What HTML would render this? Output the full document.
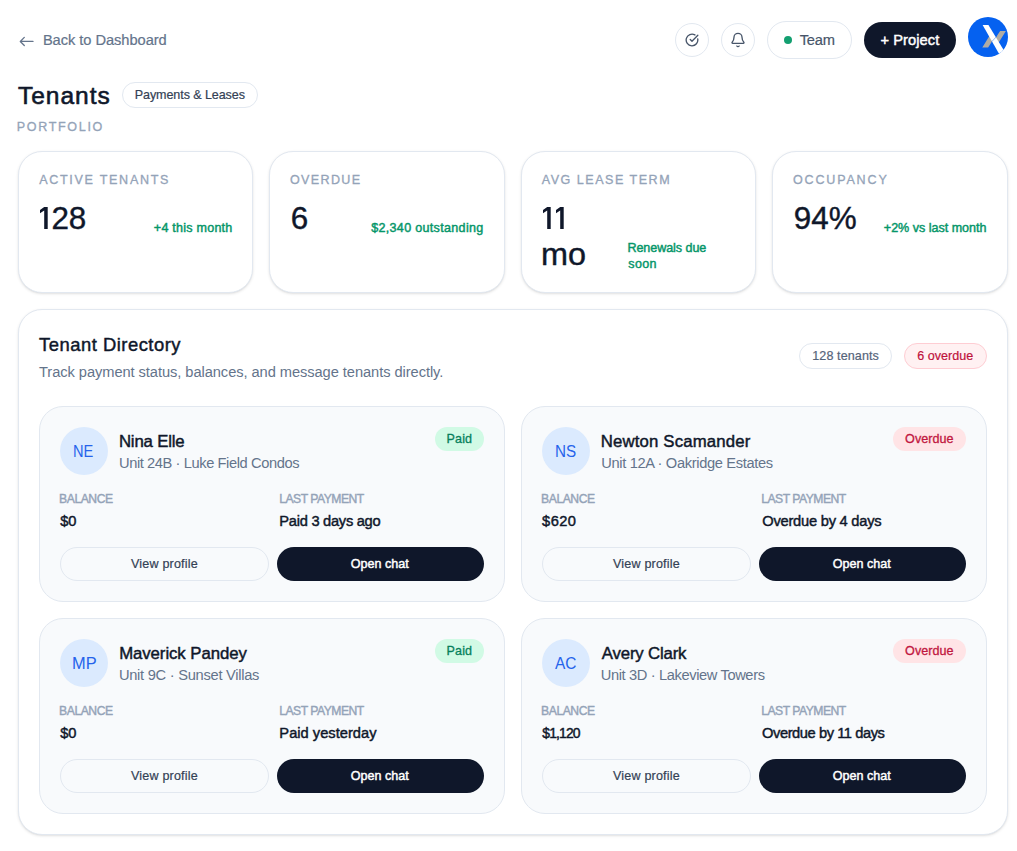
<!DOCTYPE html>
<html lang="en">
<head>
<meta charset="utf-8">
<title>Tenants</title>
<style>
*{box-sizing:border-box;margin:0;padding:0}
html,body{width:1017px;height:851px;overflow:hidden;background:#fff}
body{font-family:"Liberation Sans",sans-serif;color:#0f172a;position:relative}
.a{position:absolute}
.t{position:absolute;white-space:nowrap;line-height:1}
.circ{position:absolute;top:23px;width:34px;height:34px;border-radius:50%;border:1px solid #e2e8f0;background:#fff}
.team{position:absolute;left:767px;top:21px;width:85px;height:38px;border-radius:19px;border:1px solid #e2e8f0;background:#fff}
.dot{position:absolute;left:784px;top:36px;width:8px;height:8px;border-radius:50%;background:#139f70}
.proj{position:absolute;left:864px;top:22px;width:92px;height:36px;border-radius:18px;background:#0f172a}
.pl{position:absolute;left:122px;top:82px;width:136px;height:26px;border-radius:13px;border:1px solid #e2e8f0;background:#fff}
.stat{position:absolute;top:151px;height:142px;border:1px solid #e2e8f0;border-radius:24px;background:#fff;box-shadow:0 1px 3px rgba(0,0,0,.1),0 1px 2px -1px rgba(0,0,0,.1)}
.panel{position:absolute;left:18px;top:309px;width:990px;height:526px;border:1px solid #e2e8f0;border-radius:24px;background:#fff;box-shadow:0 1px 3px rgba(0,0,0,.1),0 1px 2px -1px rgba(0,0,0,.1)}
.pill{position:absolute;top:343px;height:26px;border-radius:13px}
.pill.pa{left:799px;width:93px;border:1px solid #e2e8f0;background:#fff}
.pill.pb{left:904px;width:83px;border:1px solid #fecdd3;background:#fff1f2}
.card{position:absolute;width:466px;height:196px;border:1px solid #e2e8f0;border-radius:24px;background:#f8fafc}
.av{position:absolute;width:48px;height:48px;border-radius:50%;background:#dbeafe;color:#2563eb;font-size:16px;text-align:center;line-height:50px}
.st{position:absolute;height:24px;border-radius:12px}
.st.paid{width:49px;background:#d1fae5}
.st.over{width:73px;background:#ffe4e6}
.b1{position:absolute;width:209px;height:34px;border-radius:17px;border:1px solid #e2e8f0;background:#f8fafc}
.b2{position:absolute;width:207px;height:34px;border-radius:17px;background:#0f172a}
</style>
</head>
<body>
<svg class="a" style="left:18px;top:34px" width="18" height="14" viewBox="18 34 18 14" fill="none" stroke="#64748b" stroke-width="1.3" stroke-linecap="round" stroke-linejoin="round"><path d="M33 41.45H20.4M24.3 37.4L20.3 41.45l4 4"/></svg>
<div class="t" style="left:42.9px;top:33px;font-size:14.66px;color:#64748b;letter-spacing:-0.049px;-webkit-text-stroke:0.2px #64748b;">Back to Dashboard</div>
<div class="circ" style="left:675px"></div>
<svg class="a" style="left:685px;top:33px" width="14" height="14" viewBox="0 0 24 24" fill="none" stroke="#475569" stroke-width="2.3" stroke-linecap="round" stroke-linejoin="round"><path d="M21.801 10A10 10 0 1 1 17 3.335"/><path d="m9 11 3 3L22 4"/></svg>
<div class="circ" style="left:721px"></div>
<svg class="a" style="left:730px;top:32px" width="16" height="16" viewBox="0 0 24 24" fill="none" stroke="#475569" stroke-width="2" stroke-linecap="round" stroke-linejoin="round"><path d="M10.268 21a2 2 0 0 0 3.464 0"/><path d="M3.262 15.326A1 1 0 0 0 4 17h16a1 1 0 0 0 .74-1.673C19.41 13.956 18 12.499 18 8A6 6 0 0 0 6 8c0 4.499-1.411 5.956-2.738 7.326"/></svg>
<div class="team"></div><div class="dot"></div><div class="t" style="left:799.7px;top:33px;font-size:14.66px;color:#475569;letter-spacing:-0.199px;-webkit-text-stroke:0.2px #475569;">Team</div>
<div class="proj"></div><div class="t" style="left:880.45px;top:33px;font-size:14.66px;color:#ffffff;letter-spacing:0.073px;-webkit-text-stroke:0.45px #ffffff;">+ Project</div>
<svg class="a" style="left:968px;top:17px" width="40" height="40" viewBox="0 0 40 40"><defs><clipPath id="cc"><circle cx="20" cy="20" r="20"/></clipPath></defs><g clip-path="url(#cc)"><rect width="40" height="40" fill="#0561f0"/><path d="M32.08 14h5.82L30.4 25.9 27.6 21.1zM14.3 30.5h5.82l4.3-6.8-2.9-4.9z" fill="#b0aca4"/><path d="M14.62 8h5.82L38.7 38h-6.95z" fill="#fff"/><path d="M23.6 24.8L28.9 19.2" stroke="#0561f0" stroke-width=".55" opacity=".8"/></g></svg>
<div class="t" style="left:17.95px;top:84px;font-size:24.5px;color:#0f172a;letter-spacing:1.0px;-webkit-text-stroke:0.6px #0f172a;">Tenants</div>
<div class="pl"></div><div class="t" style="left:134.75px;top:89px;font-size:12.56px;color:#334155;letter-spacing:-0.087px;-webkit-text-stroke:0.2px #334155;">Payments &amp; Leases</div>
<div class="t" style="left:16.85px;top:121px;font-size:12.56px;color:#94a3b8;letter-spacing:1.648px;-webkit-text-stroke:0.3px #94a3b8;">PORTFOLIO</div>
<div class="stat" style="left:18px;width:235px"></div>
<div class="stat" style="left:269px;width:236px"></div>
<div class="stat" style="left:521px;width:235px"></div>
<div class="stat" style="left:772px;width:236px"></div>
<div class="t" style="left:39.15px;top:174px;font-size:12.56px;color:#94a3b8;letter-spacing:1.707px;-webkit-text-stroke:0.3px #94a3b8;">ACTIVE TENANTS</div>
<div class="t" style="left:51.55px;top:203px;font-size:31.41px;color:#0f172a;letter-spacing:-0.2px;-webkit-text-stroke:0.4px #0f172a;">28</div>
<div class="t" style="left:153.85px;top:222px;font-size:12.56px;color:#059669;letter-spacing:0.233px;-webkit-text-stroke:0.45px #059669;">+4 this month</div>
<div class="t" style="left:289.9px;top:174px;font-size:12.56px;color:#94a3b8;letter-spacing:1.367px;-webkit-text-stroke:0.3px #94a3b8;">OVERDUE</div>
<div class="t" style="left:290.85px;top:203px;font-size:31.41px;color:#0f172a;-webkit-text-stroke:0.4px #0f172a;">6</div>
<div class="t" style="left:371.15px;top:222px;font-size:12.56px;color:#059669;letter-spacing:0.318px;-webkit-text-stroke:0.45px #059669;">$2,340 outstanding</div>
<div class="t" style="left:541.7px;top:174px;font-size:12.56px;color:#94a3b8;letter-spacing:1.508px;-webkit-text-stroke:0.3px #94a3b8;">AVG LEASE TERM</div>
<div class="t" style="left:540.94px;top:239px;font-size:31.41px;color:#0f172a;-webkit-text-stroke:0.4px #0f172a;transform:scaleX(1.0317);transform-origin:0 0;">mo</div>
<div class="t" style="left:627.4px;top:242px;font-size:12.56px;color:#059669;letter-spacing:-0.053px;-webkit-text-stroke:0.45px #059669;">Renewals due</div>
<div class="t" style="left:628.35px;top:258px;font-size:12.56px;color:#059669;letter-spacing:0.334px;-webkit-text-stroke:0.45px #059669;">soon</div>
<div class="t" style="left:792.95px;top:174px;font-size:12.56px;color:#94a3b8;letter-spacing:1.823px;-webkit-text-stroke:0.3px #94a3b8;">OCCUPANCY</div>
<div class="t" style="left:793.75px;top:203px;font-size:31.41px;color:#0f172a;-webkit-text-stroke:0.4px #0f172a;">94%</div>
<div class="t" style="left:883.85px;top:222px;font-size:12.56px;color:#059669;letter-spacing:-0.013px;-webkit-text-stroke:0.45px #059669;">+2% vs last month</div>
<svg class="a" style="left:40px;top:207px" width="8" height="22" viewBox="0 0 8 22"><path d="M4.2 0h3.5v22h-3.5V3.6L0 6.3V3z" fill="#0f172a"/></svg><svg class="a" style="left:543px;top:207px" width="8" height="22" viewBox="0 0 8 22"><path d="M4.2 0h3.5v22h-3.5V3.6L0 6.3V3z" fill="#0f172a"/></svg><svg class="a" style="left:555.9px;top:207px" width="8" height="22" viewBox="0 0 8 22"><path d="M4.2 0h3.5v22h-3.5V3.6L0 6.3V3z" fill="#0f172a"/></svg>
<div class="panel"></div>
<div class="t" style="left:39.05px;top:336px;font-size:18.4px;color:#0f172a;letter-spacing:0.506px;-webkit-text-stroke:0.45px #0f172a;">Tenant Directory</div>
<div class="t" style="left:39.0px;top:365px;font-size:14.66px;color:#64748b;letter-spacing:-0.063px;">Track payment status, balances, and message tenants directly.</div>
<div class="pill pa"></div><div class="t" style="left:812.25px;top:350px;font-size:12.56px;color:#55647a;letter-spacing:0.1px;-webkit-text-stroke:0.2px #55647a;">128 tenants</div>
<div class="pill pb"></div><div class="t" style="left:917.3px;top:350px;font-size:12.56px;color:#be123c;letter-spacing:0.025px;-webkit-text-stroke:0.2px #be123c;">6 overdue</div>
<div class="card" style="left:39px;top:406px"></div>
<div class="av" style="left:60px;top:427px"></div><div class="t" style="left:73.33px;top:444px;font-size:16.75px;color:#2563eb;transform:scaleX(0.8727);transform-origin:0 0;">NE</div>
<div class="st paid" style="left:435px;top:427px"></div><div class="b1" style="left:60px;top:547px"></div><div class="b2" style="left:277px;top:547px"></div>
<div class="t" style="left:118.95px;top:434px;font-size:16.75px;color:#0f172a;letter-spacing:-0.173px;-webkit-text-stroke:0.45px #0f172a;">Nina Elle</div>
<div class="t" style="left:119.0px;top:456px;font-size:14.66px;color:#64748b;letter-spacing:-0.407px;">Unit 24B · Luke Field Condos</div>
<div class="t" style="left:446.55px;top:433px;font-size:12.56px;color:#06805b;letter-spacing:0.132px;-webkit-text-stroke:0.3px #06805b;">Paid</div>
<div class="t" style="left:59.05px;top:493px;font-size:12.15px;color:#94a3b8;letter-spacing:-0.432px;-webkit-text-stroke:0.4px #94a3b8;">BALANCE</div>
<div class="t" style="left:279.2px;top:493px;font-size:12.15px;color:#94a3b8;letter-spacing:-0.492px;-webkit-text-stroke:0.4px #94a3b8;">LAST PAYMENT</div>
<div class="t" style="left:60.2px;top:514px;font-size:14.66px;color:#0f172a;-webkit-text-stroke:0.45px #0f172a;">$0</div>
<div class="t" style="left:279.35px;top:514px;font-size:14.66px;color:#0f172a;letter-spacing:-0.272px;-webkit-text-stroke:0.45px #0f172a;">Paid 3 days ago</div>
<div class="t" style="left:130.95px;top:558px;font-size:12.56px;color:#334155;letter-spacing:0.199px;-webkit-text-stroke:0.2px #334155;">View profile</div>
<div class="t" style="left:350.75px;top:558px;font-size:12.56px;color:#ffffff;letter-spacing:-0.001px;-webkit-text-stroke:0.45px #ffffff;">Open chat</div>
<div class="card" style="left:521px;top:406px"></div>
<div class="av" style="left:542px;top:427px"></div><div class="t" style="left:554.89px;top:444px;font-size:16.75px;color:#2563eb;transform:scaleX(0.9091);transform-origin:0 0;">NS</div>
<div class="st over" style="left:893px;top:427px"></div><div class="b1" style="left:542px;top:547px"></div><div class="b2" style="left:759px;top:547px"></div>
<div class="t" style="left:600.7px;top:434px;font-size:16.75px;color:#0f172a;letter-spacing:0.174px;-webkit-text-stroke:0.45px #0f172a;">Newton Scamander</div>
<div class="t" style="left:601.25px;top:456px;font-size:14.66px;color:#64748b;letter-spacing:-0.346px;">Unit 12A · Oakridge Estates</div>
<div class="t" style="left:905.1px;top:433px;font-size:12.56px;color:#c1173f;letter-spacing:0.034px;-webkit-text-stroke:0.3px #c1173f;">Overdue</div>
<div class="t" style="left:541.05px;top:493px;font-size:12.15px;color:#94a3b8;letter-spacing:-0.432px;-webkit-text-stroke:0.4px #94a3b8;">BALANCE</div>
<div class="t" style="left:761.2px;top:493px;font-size:12.15px;color:#94a3b8;letter-spacing:-0.492px;-webkit-text-stroke:0.4px #94a3b8;">LAST PAYMENT</div>
<div class="t" style="left:542.1px;top:514px;font-size:14.66px;color:#0f172a;letter-spacing:0.4px;-webkit-text-stroke:0.45px #0f172a;">$620</div>
<div class="t" style="left:762.25px;top:514px;font-size:14.66px;color:#0f172a;letter-spacing:-0.226px;-webkit-text-stroke:0.45px #0f172a;">Overdue by 4 days</div>
<div class="t" style="left:612.95px;top:558px;font-size:12.56px;color:#334155;letter-spacing:0.199px;-webkit-text-stroke:0.2px #334155;">View profile</div>
<div class="t" style="left:832.75px;top:558px;font-size:12.56px;color:#ffffff;letter-spacing:-0.001px;-webkit-text-stroke:0.45px #ffffff;">Open chat</div>
<div class="card" style="left:39px;top:618px"></div>
<div class="av" style="left:60px;top:639px"></div><div class="t" style="left:71.72px;top:656px;font-size:16.75px;color:#2563eb;transform:scaleX(0.9783);transform-origin:0 0;">MP</div>
<div class="st paid" style="left:435px;top:639px"></div><div class="b1" style="left:60px;top:759px"></div><div class="b2" style="left:277px;top:759px"></div>
<div class="t" style="left:119.15px;top:646px;font-size:16.75px;color:#0f172a;letter-spacing:-0.058px;-webkit-text-stroke:0.45px #0f172a;">Maverick Pandey</div>
<div class="t" style="left:118.9px;top:668px;font-size:14.66px;color:#64748b;letter-spacing:-0.264px;">Unit 9C · Sunset Villas</div>
<div class="t" style="left:446.55px;top:645px;font-size:12.56px;color:#06805b;letter-spacing:0.132px;-webkit-text-stroke:0.3px #06805b;">Paid</div>
<div class="t" style="left:59.05px;top:705px;font-size:12.15px;color:#94a3b8;letter-spacing:-0.432px;-webkit-text-stroke:0.4px #94a3b8;">BALANCE</div>
<div class="t" style="left:279.2px;top:705px;font-size:12.15px;color:#94a3b8;letter-spacing:-0.492px;-webkit-text-stroke:0.4px #94a3b8;">LAST PAYMENT</div>
<div class="t" style="left:60.2px;top:726px;font-size:14.66px;color:#0f172a;-webkit-text-stroke:0.45px #0f172a;">$0</div>
<div class="t" style="left:279.35px;top:726px;font-size:14.66px;color:#0f172a;letter-spacing:0.015px;-webkit-text-stroke:0.45px #0f172a;">Paid yesterday</div>
<div class="t" style="left:130.95px;top:770px;font-size:12.56px;color:#334155;letter-spacing:0.199px;-webkit-text-stroke:0.2px #334155;">View profile</div>
<div class="t" style="left:350.75px;top:770px;font-size:12.56px;color:#ffffff;letter-spacing:-0.001px;-webkit-text-stroke:0.45px #ffffff;">Open chat</div>
<div class="card" style="left:521px;top:618px"></div>
<div class="av" style="left:542px;top:639px"></div><div class="t" style="left:555.0px;top:656px;font-size:16.75px;color:#2563eb;transform:scaleX(0.9217);transform-origin:0 0;">AC</div>
<div class="st over" style="left:893px;top:639px"></div><div class="b1" style="left:542px;top:759px"></div><div class="b2" style="left:759px;top:759px"></div>
<div class="t" style="left:601.8px;top:646px;font-size:16.75px;color:#0f172a;letter-spacing:-0.16px;-webkit-text-stroke:0.45px #0f172a;">Avery Clark</div>
<div class="t" style="left:600.75px;top:668px;font-size:14.66px;color:#64748b;letter-spacing:-0.375px;">Unit 3D · Lakeview Towers</div>
<div class="t" style="left:905.1px;top:645px;font-size:12.56px;color:#c1173f;letter-spacing:0.034px;-webkit-text-stroke:0.3px #c1173f;">Overdue</div>
<div class="t" style="left:541.05px;top:705px;font-size:12.15px;color:#94a3b8;letter-spacing:-0.432px;-webkit-text-stroke:0.4px #94a3b8;">BALANCE</div>
<div class="t" style="left:761.2px;top:705px;font-size:12.15px;color:#94a3b8;letter-spacing:-0.492px;-webkit-text-stroke:0.4px #94a3b8;">LAST PAYMENT</div>
<div class="t" style="left:542.3px;top:727px;font-size:13.9px;color:#0f172a;letter-spacing:-0.84px;-webkit-text-stroke:0.45px #0f172a;">$1,120</div>
<div class="t" style="left:762.05px;top:726px;font-size:14.66px;color:#0f172a;letter-spacing:-0.424px;-webkit-text-stroke:0.45px #0f172a;">Overdue by 11 days</div>
<div class="t" style="left:612.95px;top:770px;font-size:12.56px;color:#334155;letter-spacing:0.199px;-webkit-text-stroke:0.2px #334155;">View profile</div>
<div class="t" style="left:832.75px;top:770px;font-size:12.56px;color:#ffffff;letter-spacing:-0.001px;-webkit-text-stroke:0.45px #ffffff;">Open chat</div>
</body>
</html>
